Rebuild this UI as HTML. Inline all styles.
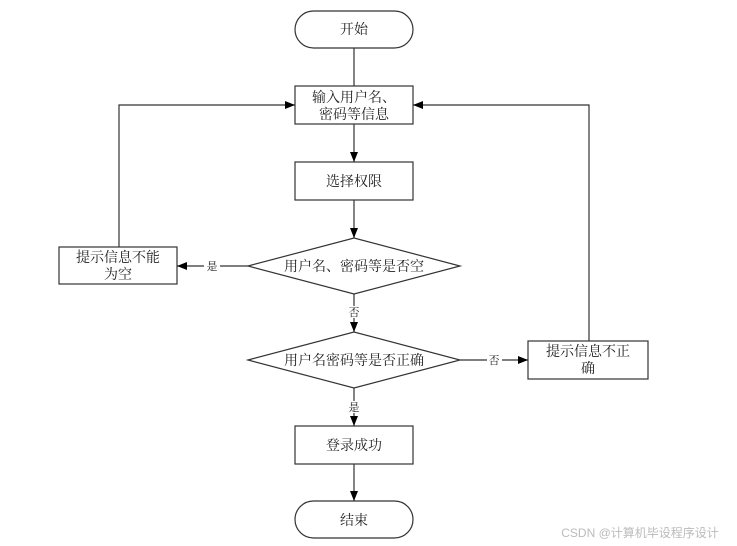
<!DOCTYPE html>
<html><head><meta charset="utf-8"><style>
html,body{margin:0;padding:0;background:#fff;}
svg{display:block;}
text{font-family:"Liberation Serif","Noto Serif CJK SC","Noto Sans CJK SC",serif;fill:#222;}
</style></head><body>
<svg width="737" height="546" viewBox="0 0 737 546" xmlns="http://www.w3.org/2000/svg">
<defs>
<marker id="a" markerWidth="10" markerHeight="8" refX="10" refY="4" orient="auto" markerUnits="userSpaceOnUse">
<path d="M0,0 L10,4 L0,8 Z" fill="#000"/></marker>
</defs>
<g stroke="#333" stroke-width="1.2" fill="none">
<rect x="295" y="11" width="118" height="37" rx="18.5" ry="18.5"/>
<rect x="295" y="86" width="118" height="38"/>
<rect x="295" y="162" width="118" height="38"/>
<polygon points="248,266 354,238 460,266 354,294"/>
<rect x="59" y="247" width="118" height="37"/>
<polygon points="248,360 354,332 460,360 354,388"/>
<rect x="528" y="341" width="120" height="38"/>
<rect x="295" y="426" width="118" height="38"/>
<rect x="295" y="501" width="118" height="37" rx="18.5" ry="18.5"/>
<!-- connectors -->
<line x1="354" y1="48" x2="354" y2="86"/>
<line x1="354" y1="124" x2="354" y2="162" marker-end="url(#a)"/>
<line x1="354" y1="200" x2="354" y2="238" marker-end="url(#a)"/>
<line x1="248" y1="266" x2="220" y2="266"/>
<line x1="204" y1="266" x2="177" y2="266" marker-end="url(#a)"/>
<polyline points="119,247 119,105 295,105" marker-end="url(#a)"/>
<line x1="354" y1="294" x2="354" y2="306"/>
<line x1="354" y1="318" x2="354" y2="332" marker-end="url(#a)"/>
<line x1="460" y1="360" x2="487" y2="360"/>
<line x1="502" y1="360" x2="528" y2="360" marker-end="url(#a)"/>
<polyline points="589,341 589,105 413,105" marker-end="url(#a)"/>
<line x1="354" y1="388" x2="354" y2="401"/>
<line x1="354" y1="413" x2="354" y2="426" marker-end="url(#a)"/>
<line x1="354" y1="464" x2="354" y2="501" marker-end="url(#a)"/>
</g>
<g font-size="14" text-anchor="middle">
<text x="354" y="34">开始</text>
<text x="354" y="102">输入用户名、</text>
<text x="354" y="119">密码等信息</text>
<text x="354" y="186">选择权限</text>
<text x="354" y="271">用户名、密码等是否空</text>
<text x="118" y="262">提示信息不能</text>
<text x="118" y="279">为空</text>
<text x="354" y="365">用户名密码等是否正确</text>
<text x="588" y="356">提示信息不正</text>
<text x="588" y="373">确</text>
<text x="354" y="450">登录成功</text>
<text x="354" y="525">结束</text>
</g>
<g font-size="11" text-anchor="middle">
<text x="212" y="270">是</text>
<text x="354" y="316">否</text>
<text x="494" y="364">否</text>
<text x="354" y="411">是</text>
</g>
<text x="640" y="537" font-size="12" text-anchor="middle" style="fill:#bbb;font-family:'Liberation Sans','Noto Sans CJK SC',sans-serif">CSDN @计算机毕设程序设计</text>
</svg>
</body></html>
